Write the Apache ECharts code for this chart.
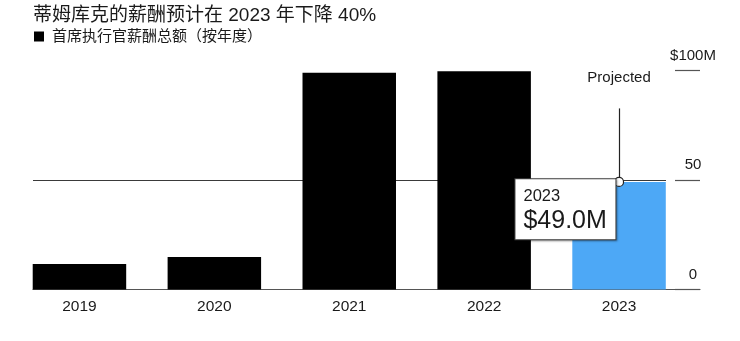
<!DOCTYPE html>
<html>
<head>
<meta charset="utf-8">
<script src="https://cdn.jsdelivr.net/npm/echarts@6/dist/echarts.min.js"></script>
<style>
  html, body { margin: 0; padding: 0; background: #fff; }
  #chart { width: 740px; height: 341px; }
</style>
</head>
<body>
<div id="chart"></div>
<script>
// Annual CEO pay, millions of US dollars
const years = ['2019', '2020', '2021', '2022', '2023'];
const payMillions = [11.6, 14.8, 98.7, 99.4, 49.0];
const projectedYear = '2023';
const yTicks = [0, 50, 100];
const yTickLabels = ['0', '50', '$100M'];

const titleText = '蒂姆库克的薪酬预计在 2023 年下降 40%';
const seriesName = '首席执行官薪酬总额（按年度）';
const projectedText = 'Projected';

const FONT = '"Liberation Sans", "Noto Sans CJK SC", sans-serif';
const BLACK = '#000000';
const BLUE = '#4da8f6';
const INK = '#1a1a1a';
const RULE = '#555555';

const projIndex = years.indexOf(projectedYear);
const projValue = payMillions[projIndex];

const chart = echarts.init(document.getElementById('chart'), null, { renderer: 'canvas' });

const plotTop = 70;
const plotBottom = 51.5;

// helper for axes that only carry a scale and draw nothing themselves
function silentValueAxis(gridIndex, min, max, extra) {
  return Object.assign({
    gridIndex: gridIndex,
    type: 'value', min: min, max: max,
    axisLine: { show: false },
    axisTick: { show: false },
    axisLabel: { show: false },
    splitLine: { show: false }
  }, extra || {});
}

chart.setOption({
  animation: false,
  backgroundColor: '#ffffff',
  textStyle: { fontFamily: FONT },
  title: {
    text: titleText,
    left: 33,
    top: 6,
    padding: 0,
    textStyle: { fontFamily: FONT, fontSize: 19, fontWeight: 'normal', color: INK }
  },
  legend: {
    left: 34,
    top: 29,
    padding: 0,
    icon: 'rect',
    itemWidth: 10,
    itemHeight: 10,
    data: [seriesName],
    textStyle: { fontFamily: FONT, fontSize: 15, color: INK, padding: [0, 0, 0, 3] }
  },
  grid: [
    // bars
    { left: 12, right: 53.5, top: plotTop, bottom: plotBottom },
    // baseline
    { left: 33, right: 40, top: plotTop, bottom: plotBottom },
    // reference line at 50
    { left: 33, right: 74, top: plotTop, bottom: plotBottom },
    // short tick rules and value labels on the right
    { left: 675, right: 40, top: plotTop, bottom: plotBottom }
  ],
  xAxis: [
    {
      gridIndex: 0,
      type: 'category',
      data: years,
      axisLine: { show: false },
      axisTick: { show: false },
      axisLabel: { margin: 9, fontSize: 15.5, color: INK, fontFamily: FONT }
    },
    silentValueAxis(1, 0, 1, {
      axisLine: { show: true, lineStyle: { color: RULE, width: 1.2 } }
    }),
    silentValueAxis(2, 0, 1),
    silentValueAxis(3, 0, 1)
  ],
  yAxis: [
    { gridIndex: 0, type: 'value', min: 0, max: 100, show: false },
    silentValueAxis(1, 0, 100),
    silentValueAxis(2, 0, 100, {
      interval: 50,
      splitLine: {
        show: true,
        lineStyle: { color: ['rgba(0,0,0,0)', '#3a3a3a', 'rgba(0,0,0,0)'], width: 1.2 }
      }
    }),
    silentValueAxis(3, 0, 100, {
      interval: 50,
      position: 'right',
      axisLabel: {
        show: true,
        inside: true,
        margin: 7,
        align: 'center',
        verticalAlign: 'bottom',
        padding: [0, 0, 7, 0],
        fontSize: 15,
        color: INK,
        fontFamily: FONT,
        formatter: v => yTickLabels[yTicks.indexOf(v)]
      },
      splitLine: { show: true, lineStyle: { color: RULE, width: 1.2 } }
    })
  ],
  series: [
    {
      name: seriesName,
      type: 'bar',
      xAxisIndex: 0,
      yAxisIndex: 0,
      barCategoryGap: '30.7%',
      itemStyle: { color: BLACK },
      data: payMillions.map((v, i) => ({
        value: v,
        itemStyle: { color: years[i] === projectedYear ? BLUE : BLACK }
      })),
      markLine: {
        silent: true,
        symbol: ['none', 'none'],
        lineStyle: { color: '#222', width: 1.2, type: 'solid' },
        label: {
          show: true,
          position: 'end',
          distance: 23,
          formatter: projectedText,
          fontSize: 15,
          color: INK,
          fontFamily: FONT
        },
        data: [[
          { coord: [projectedYear, projValue] },
          { coord: [projectedYear, 82.5] }
        ]]
      },
      markPoint: {
        silent: true,
        symbol: 'circle',
        symbolSize: 9,
        itemStyle: { color: '#ffffff', borderColor: '#222', borderWidth: 1.2 },
        label: {
          show: true,
          position: [-98.5, 2.5],
          align: 'left',
          verticalAlign: 'top',
          backgroundColor: '#ffffff',
          borderColor: '#444',
          borderWidth: 1,
          shadowColor: 'rgba(0,0,0,0.35)',
          shadowBlur: 2,
          shadowOffsetX: 1,
          shadowOffsetY: 1,
          width: 83,
          padding: [7, 9, 4, 8],
          formatter: p => '{y|' + projectedYear + '}\n{v|$' + p.value.toFixed(1) + 'M}',
          rich: {
            y: { fontSize: 16.5, lineHeight: 20, color: INK, fontFamily: FONT, align: 'left' },
            v: { fontSize: 25, lineHeight: 29, color: INK, fontFamily: FONT, align: 'left' }
          }
        },
        data: [{ coord: [projectedYear, projValue], value: projValue }]
      }
    }
  ]
});
</script>
</body>
</html>
